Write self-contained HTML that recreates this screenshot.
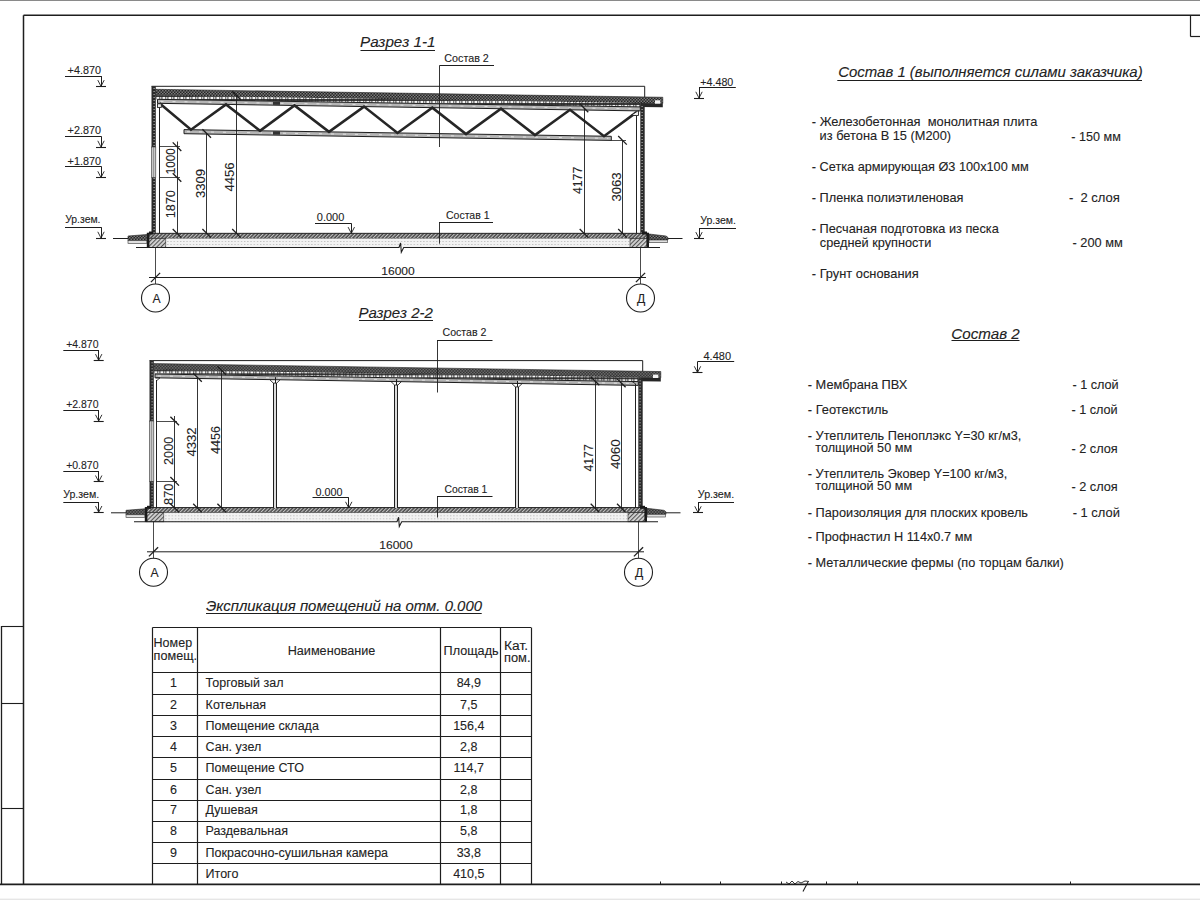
<!DOCTYPE html>
<html><head><meta charset="utf-8"><title>Разрезы</title>
<style>
html,body{margin:0;padding:0;background:#fff;}
body{width:1200px;height:900px;overflow:hidden;}
svg{display:block;font-family:"Liberation Sans",sans-serif;}
text{stroke:#262626;stroke-width:0.1px;}
</style></head><body>
<svg width="1200" height="900" viewBox="0 0 1200 900">
<defs>
<pattern id="pDark" width="3" height="3" patternUnits="userSpaceOnUse">
 <rect width="3" height="3" fill="#262626"/><rect x="0" y="0" width="1.5" height="1.5" fill="#7a7a7a"/><rect x="1.5" y="1.5" width="1.5" height="1.5" fill="#7a7a7a"/>
</pattern>
<pattern id="pWall" width="4" height="3" patternUnits="userSpaceOnUse">
 <rect width="4" height="3" fill="#2a2a2a"/><rect x="1.5" y="1" width="1.2" height="1" fill="#b0b0b0"/>
</pattern>
<pattern id="pHatch" width="2.6" height="2.6" patternUnits="userSpaceOnUse" patternTransform="rotate(45)">
 <rect width="2.6" height="2.6" fill="#4a4a4a"/><rect x="0" y="0" width="1.1" height="2.6" fill="#c4c4c4"/>
</pattern>
<pattern id="pFound" width="3" height="3" patternUnits="userSpaceOnUse" patternTransform="rotate(45)">
 <rect width="3" height="3" fill="#d4d4d4"/><rect x="0" y="0" width="1.1" height="3" fill="#555"/>
</pattern>
<pattern id="pSand" width="3.2" height="3" patternUnits="userSpaceOnUse">
 <rect width="3.2" height="3" fill="#f2f2f2"/><rect x="1" y="1" width="1" height="1" fill="#b0b0b0"/>
</pattern>
<pattern id="pDash" width="6" height="4" patternUnits="userSpaceOnUse">
 <rect width="6" height="4" fill="#262626"/><rect x="0.4" y="0.9" width="3.0" height="2.2" fill="#f6f6f6"/><rect x="4.1" y="0.9" width="1.4" height="2.2" fill="#dedede"/>
</pattern>
</defs>
<rect width="1200" height="900" fill="#ffffff"/>
<rect x="0.00" y="0.00" width="1200.00" height="1.00" fill="#8a8a8a" stroke="none" stroke-width="0.8" />
<rect x="0.00" y="898.60" width="1200.00" height="1.40" fill="#e6e6e6" stroke="none" stroke-width="0.8" />
<line x1="23.50" y1="15.30" x2="1200.00" y2="15.30" stroke="#1e1e1e" stroke-width="1.5" />
<line x1="23.50" y1="15.30" x2="23.50" y2="884.40" stroke="#1e1e1e" stroke-width="1.5" />
<line x1="0.00" y1="884.40" x2="1200.00" y2="884.40" stroke="#1e1e1e" stroke-width="1.6" />
<line x1="1190.50" y1="15.30" x2="1190.50" y2="36.40" stroke="#1e1e1e" stroke-width="1.2" />
<line x1="1190.30" y1="36.50" x2="1200.00" y2="36.50" stroke="#1e1e1e" stroke-width="1.2" />
<line x1="1.50" y1="626.00" x2="1.50" y2="884.40" stroke="#1e1e1e" stroke-width="1.3" />
<line x1="1.50" y1="626.50" x2="23.50" y2="626.50" stroke="#1e1e1e" stroke-width="1.1" />
<line x1="1.50" y1="703.50" x2="23.50" y2="703.50" stroke="#1e1e1e" stroke-width="1.1" />
<line x1="1.50" y1="808.50" x2="23.50" y2="808.50" stroke="#1e1e1e" stroke-width="1.1" />
<line x1="660.50" y1="881.50" x2="660.50" y2="884.40" stroke="#1e1e1e" stroke-width="1.0" />
<line x1="720.50" y1="881.50" x2="720.50" y2="884.40" stroke="#1e1e1e" stroke-width="1.0" />
<line x1="781.50" y1="881.50" x2="781.50" y2="884.40" stroke="#1e1e1e" stroke-width="1.0" />
<line x1="826.50" y1="881.50" x2="826.50" y2="884.40" stroke="#1e1e1e" stroke-width="1.0" />
<line x1="857.50" y1="881.50" x2="857.50" y2="884.40" stroke="#1e1e1e" stroke-width="1.0" />
<line x1="1070.50" y1="881.50" x2="1070.50" y2="884.40" stroke="#1e1e1e" stroke-width="1.0" />
<polyline points="786.00,882.00 789.00,884.00 792.00,881.00 795.00,884.00 798.00,881.50 801.00,883.00 805.00,881.00 809.00,881.50" fill="none" stroke="#1e1e1e" stroke-width="0.9" />
<line x1="808.00" y1="882.00" x2="803.00" y2="891.50" stroke="#1e1e1e" stroke-width="1.1" />
<g>
<polyline points="151.50,86.30 644.70,86.30 644.70,97.20" fill="none" stroke="#1e1e1e" stroke-width="1.0" />
<polygon points="155.70,89.31 662.80,97.27 662.80,103.47 155.70,95.51" fill="url(#pDark)" stroke="#222" stroke-width="0.6" />
<polygon points="155.70,95.51 640.30,103.12 640.30,106.92 155.70,99.31" fill="url(#pDash)" stroke="none" stroke-width="0.8" />
<polygon points="640.30,103.12 662.80,103.47 662.80,107.27 640.30,106.92" fill="#262626" stroke="none" stroke-width="0.8" />
<rect x="655.00" y="100.30" width="5.30" height="3.40" fill="#f4f4f4" stroke="none" stroke-width="0.8" />
<rect x="151.50" y="86.30" width="4.30" height="60.70" fill="url(#pWall)" stroke="none" stroke-width="0.8" />
<rect x="151.50" y="147.00" width="4.30" height="30.50" fill="#c8c8c8" stroke="#333" stroke-width="0.6" />
<line x1="153.50" y1="147.00" x2="153.50" y2="177.50" stroke="#666" stroke-width="0.5" />
<rect x="151.50" y="177.50" width="4.30" height="55.80" fill="url(#pWall)" stroke="none" stroke-width="0.8" />
<rect x="640.30" y="104.20" width="4.40" height="129.10" fill="url(#pWall)" stroke="none" stroke-width="0.8" />
<rect x="148.00" y="233.30" width="500.30" height="5.10" fill="url(#pHatch)" stroke="#151515" stroke-width="0.9" />
<rect x="165.80" y="238.40" width="464.20" height="9.10" fill="url(#pSand)" stroke="none" stroke-width="0.8" />
<rect x="148.00" y="238.40" width="17.80" height="9.10" fill="url(#pFound)" stroke="#333" stroke-width="0.6" />
<rect x="630.00" y="238.40" width="18.30" height="9.10" fill="url(#pFound)" stroke="#333" stroke-width="0.6" />
<rect x="146.80" y="232.80" width="2.60" height="14.80" fill="#1a1a1a" stroke="none" stroke-width="0.8" />
<rect x="646.40" y="232.80" width="2.60" height="14.80" fill="#1a1a1a" stroke="none" stroke-width="0.8" />
<rect x="149.00" y="231.50" width="4.00" height="3.00" fill="#1a1a1a" stroke="none" stroke-width="0.8" />
<rect x="642.00" y="231.50" width="5.00" height="3.00" fill="#1a1a1a" stroke="none" stroke-width="0.8" />
<polyline points="136.00,247.50 399.00,247.50 400.60,243.00 401.30,252.20 403.70,247.50 660.00,247.50" fill="none" stroke="#1e1e1e" stroke-width="1.1" />
<polygon points="128.00,236.00 146.80,234.50 146.80,240.50 128.00,240.50" fill="url(#pDark)" stroke="#222" stroke-width="0.6" />
<rect x="128.00" y="240.50" width="18.80" height="2.80" fill="#e0e0e0" stroke="#333" stroke-width="0.6" />
<line x1="113.00" y1="238.50" x2="128.00" y2="238.50" stroke="#1e1e1e" stroke-width="1.0" />
<polygon points="649.00,234.00 666.00,236.00 668.00,237.50 668.00,240.00 649.00,240.00" fill="url(#pDark)" stroke="#222" stroke-width="0.6" />
<rect x="649.00" y="240.00" width="18.50" height="2.70" fill="#e0e0e0" stroke="#333" stroke-width="0.6" />
<line x1="668.00" y1="238.50" x2="682.50" y2="238.50" stroke="#1e1e1e" stroke-width="1.0" />
<line x1="155.50" y1="247.50" x2="155.50" y2="284.00" stroke="#1e1e1e" stroke-width="0.8" />
<line x1="640.50" y1="247.50" x2="640.50" y2="284.00" stroke="#1e1e1e" stroke-width="0.8" />
<line x1="149.00" y1="277.50" x2="646.00" y2="277.50" stroke="#1e1e1e" stroke-width="1.0" />
<line x1="150.90" y1="282.10" x2="160.10" y2="272.90" stroke="#1e1e1e" stroke-width="1.3" />
<line x1="635.90" y1="282.10" x2="645.10" y2="272.90" stroke="#1e1e1e" stroke-width="1.3" />
<circle cx="155.50" cy="298.00" r="14" fill="none" stroke="#1e1e1e" stroke-width="1.1"/>
<circle cx="640.50" cy="298.00" r="14" fill="none" stroke="#1e1e1e" stroke-width="1.1"/>
<text xml:space="preserve" x="156.60" y="302.60" font-size="12.2" text-anchor="middle" fill="#222">А</text>
<text xml:space="preserve" x="641.20" y="302.60" font-size="12.2" text-anchor="middle" fill="#222">Д</text>
<text xml:space="preserve" x="398.00" y="275.00" font-size="11.6" text-anchor="middle" textLength="33.50" lengthAdjust="spacingAndGlyphs" fill="#222">16000</text>
<polygon points="157.50,99.34 640.30,106.92 640.30,110.92 157.50,103.34" fill="#b4b4b4" stroke="#1e1e1e" stroke-width="1.0" />
<line x1="160.50" y1="101.39" x2="637.30" y2="108.87" stroke="#eeeeee" stroke-width="0.8" stroke-dasharray="3 9"/>
<polygon points="184.00,129.60 611.30,136.31 611.30,140.41 184.00,133.70" fill="#b4b4b4" stroke="#1e1e1e" stroke-width="1.0" />
<line x1="187.00" y1="131.70" x2="608.30" y2="138.31" stroke="#eeeeee" stroke-width="0.8" stroke-dasharray="3 9"/>
<rect x="273.00" y="101.85" width="7.00" height="3.00" fill="#333" stroke="none" stroke-width="0.8" />
<rect x="273.00" y="131.30" width="7.00" height="3.40" fill="#333" stroke="none" stroke-width="0.8" />
<polyline points="159.50,103.37 191.00,129.71 226.00,104.41 260.00,130.79 294.50,105.49 329.00,131.88 364.00,106.58 397.50,132.95 432.30,107.65 466.00,134.03 501.00,108.73 535.00,135.11 570.00,109.82 604.00,136.19 637.00,111.87" fill="none" stroke="#262626" stroke-width="2.6" stroke-linejoin="miter"/>
<rect x="157.50" y="103.80" width="3.80" height="3.60" fill="#f0f0f0" stroke="#222" stroke-width="0.9" />
<polygon points="631.00,115.50 638.50,110.50 638.50,115.50" fill="#f0f0f0" stroke="#222" stroke-width="0.9" />
<line x1="159.50" y1="107.40" x2="159.50" y2="233.30" stroke="#222" stroke-width="1.0" />
<line x1="636.50" y1="116.00" x2="636.50" y2="233.30" stroke="#222" stroke-width="1.0" />
<text xml:space="preserve" x="444.30" y="61.70" font-size="10.6" textLength="44.50" lengthAdjust="spacingAndGlyphs" fill="#222">Состав 2</text>
<line x1="439.70" y1="65.50" x2="494.00" y2="65.50" stroke="#1e1e1e" stroke-width="1.0" />
<line x1="439.50" y1="65.30" x2="439.50" y2="147.00" stroke="#1e1e1e" stroke-width="0.9" />
<text xml:space="preserve" x="316.80" y="221.20" font-size="10.8" textLength="27.50" lengthAdjust="spacingAndGlyphs" fill="#222">0.000</text>
<line x1="315.00" y1="223.50" x2="351.30" y2="223.50" stroke="#1e1e1e" stroke-width="1.0" />
<line x1="351.50" y1="223.30" x2="351.50" y2="233.30" stroke="#1e1e1e" stroke-width="1.0" />
<polyline points="348.10,227.10 351.30,233.30 354.50,227.10" fill="none" stroke="#1e1e1e" stroke-width="0.9" />
<text xml:space="preserve" x="446.00" y="218.70" font-size="10.6" textLength="43.50" lengthAdjust="spacingAndGlyphs" fill="#222">Состав 1</text>
<line x1="439.00" y1="222.50" x2="493.00" y2="222.50" stroke="#1e1e1e" stroke-width="1.0" />
<line x1="439.50" y1="222.80" x2="439.50" y2="243.70" stroke="#1e1e1e" stroke-width="0.9" />
<line x1="159.00" y1="146.50" x2="180.00" y2="146.50" stroke="#1e1e1e" stroke-width="0.8" />
<line x1="159.00" y1="177.50" x2="180.00" y2="177.50" stroke="#1e1e1e" stroke-width="0.8" />
<line x1="177.50" y1="141.50" x2="177.50" y2="233.30" stroke="#1e1e1e" stroke-width="0.9" />
<line x1="172.70" y1="142.40" x2="181.30" y2="151.00" stroke="#1e1e1e" stroke-width="1.3" />
<line x1="172.70" y1="173.20" x2="181.30" y2="181.80" stroke="#1e1e1e" stroke-width="1.3" />
<line x1="172.70" y1="229.00" x2="181.30" y2="237.60" stroke="#1e1e1e" stroke-width="1.3" />
<line x1="206.50" y1="133.50" x2="206.50" y2="233.30" stroke="#1e1e1e" stroke-width="0.9" />
<line x1="202.40" y1="129.20" x2="211.00" y2="137.80" stroke="#1e1e1e" stroke-width="1.3" />
<line x1="202.40" y1="229.00" x2="211.00" y2="237.60" stroke="#1e1e1e" stroke-width="1.3" />
<line x1="236.50" y1="95.50" x2="236.50" y2="233.30" stroke="#1e1e1e" stroke-width="0.9" />
<line x1="232.20" y1="91.20" x2="240.80" y2="99.80" stroke="#1e1e1e" stroke-width="1.3" />
<line x1="232.20" y1="229.00" x2="240.80" y2="237.60" stroke="#1e1e1e" stroke-width="1.3" />
<line x1="584.50" y1="108.00" x2="584.50" y2="233.30" stroke="#1e1e1e" stroke-width="0.9" />
<line x1="579.70" y1="103.70" x2="588.30" y2="112.30" stroke="#1e1e1e" stroke-width="1.3" />
<line x1="579.70" y1="229.00" x2="588.30" y2="237.60" stroke="#1e1e1e" stroke-width="1.3" />
<line x1="611.00" y1="140.50" x2="626.00" y2="140.50" stroke="#1e1e1e" stroke-width="0.8" />
<line x1="622.50" y1="140.30" x2="622.50" y2="233.30" stroke="#1e1e1e" stroke-width="0.9" />
<line x1="618.20" y1="136.00" x2="626.80" y2="144.60" stroke="#1e1e1e" stroke-width="1.3" />
<line x1="618.20" y1="229.00" x2="626.80" y2="237.60" stroke="#1e1e1e" stroke-width="1.3" />
<text xml:space="preserve" x="174.60" y="161.20" font-size="12.2" text-anchor="middle" textLength="25.90" lengthAdjust="spacingAndGlyphs" transform="rotate(-90 174.60 161.20)" fill="#222">1000</text>
<text xml:space="preserve" x="174.60" y="204.20" font-size="12.2" text-anchor="middle" textLength="28.20" lengthAdjust="spacingAndGlyphs" transform="rotate(-90 174.60 204.20)" fill="#222">1870</text>
<text xml:space="preserve" x="204.60" y="183.50" font-size="12.2" text-anchor="middle" textLength="29.20" lengthAdjust="spacingAndGlyphs" transform="rotate(-90 204.60 183.50)" fill="#222">3309</text>
<text xml:space="preserve" x="234.40" y="177.00" font-size="12.2" text-anchor="middle" textLength="28.90" lengthAdjust="spacingAndGlyphs" transform="rotate(-90 234.40 177.00)" fill="#222">4456</text>
<text xml:space="preserve" x="581.70" y="180.40" font-size="12.2" text-anchor="middle" textLength="27.40" lengthAdjust="spacingAndGlyphs" transform="rotate(-90 581.70 180.40)" fill="#222">4177</text>
<text xml:space="preserve" x="620.70" y="187.00" font-size="12.2" text-anchor="middle" textLength="28.90" lengthAdjust="spacingAndGlyphs" transform="rotate(-90 620.70 187.00)" fill="#222">3063</text>
</g>
<g transform="translate(-2,274.3)">
<polyline points="151.50,86.30 644.70,86.30 644.70,97.20" fill="none" stroke="#1e1e1e" stroke-width="1.0" />
<polygon points="155.70,89.31 662.80,97.27 662.80,103.47 155.70,95.51" fill="url(#pDark)" stroke="#222" stroke-width="0.6" />
<polygon points="155.70,95.51 640.30,103.12 640.30,106.92 155.70,99.31" fill="url(#pDash)" stroke="none" stroke-width="0.8" />
<polygon points="640.30,103.12 662.80,103.47 662.80,107.27 640.30,106.92" fill="#262626" stroke="none" stroke-width="0.8" />
<rect x="655.00" y="100.30" width="5.30" height="3.40" fill="#f4f4f4" stroke="none" stroke-width="0.8" />
<rect x="151.50" y="86.30" width="4.30" height="60.40" fill="url(#pWall)" stroke="none" stroke-width="0.8" />
<rect x="151.50" y="146.70" width="4.30" height="60.30" fill="#c8c8c8" stroke="#333" stroke-width="0.6" />
<line x1="153.50" y1="146.70" x2="153.50" y2="207.00" stroke="#666" stroke-width="0.5" />
<rect x="151.50" y="207.00" width="4.30" height="26.30" fill="url(#pWall)" stroke="none" stroke-width="0.8" />
<rect x="640.30" y="104.20" width="4.40" height="129.10" fill="url(#pWall)" stroke="none" stroke-width="0.8" />
<rect x="148.00" y="233.30" width="500.30" height="5.10" fill="url(#pHatch)" stroke="#151515" stroke-width="0.9" />
<rect x="165.80" y="238.40" width="464.20" height="9.10" fill="url(#pSand)" stroke="none" stroke-width="0.8" />
<rect x="148.00" y="238.40" width="17.80" height="9.10" fill="url(#pFound)" stroke="#333" stroke-width="0.6" />
<rect x="630.00" y="238.40" width="18.30" height="9.10" fill="url(#pFound)" stroke="#333" stroke-width="0.6" />
<rect x="146.80" y="232.80" width="2.60" height="14.80" fill="#1a1a1a" stroke="none" stroke-width="0.8" />
<rect x="646.40" y="232.80" width="2.60" height="14.80" fill="#1a1a1a" stroke="none" stroke-width="0.8" />
<rect x="149.00" y="231.50" width="4.00" height="3.00" fill="#1a1a1a" stroke="none" stroke-width="0.8" />
<rect x="642.00" y="231.50" width="5.00" height="3.00" fill="#1a1a1a" stroke="none" stroke-width="0.8" />
<polyline points="136.00,247.50 399.00,247.50 400.60,243.00 401.30,252.20 403.70,247.50 660.00,247.50" fill="none" stroke="#1e1e1e" stroke-width="1.1" />
<polygon points="128.00,236.00 146.80,234.50 146.80,240.50 128.00,240.50" fill="url(#pDark)" stroke="#222" stroke-width="0.6" />
<rect x="128.00" y="240.50" width="18.80" height="2.80" fill="#e0e0e0" stroke="#333" stroke-width="0.6" />
<line x1="113.00" y1="238.50" x2="128.00" y2="238.50" stroke="#1e1e1e" stroke-width="1.0" />
<polygon points="649.00,234.00 666.00,236.00 668.00,237.50 668.00,240.00 649.00,240.00" fill="url(#pDark)" stroke="#222" stroke-width="0.6" />
<rect x="649.00" y="240.00" width="18.50" height="2.70" fill="#e0e0e0" stroke="#333" stroke-width="0.6" />
<line x1="668.00" y1="238.50" x2="682.50" y2="238.50" stroke="#1e1e1e" stroke-width="1.0" />
<line x1="155.50" y1="247.50" x2="155.50" y2="284.00" stroke="#1e1e1e" stroke-width="0.8" />
<line x1="640.50" y1="247.50" x2="640.50" y2="284.00" stroke="#1e1e1e" stroke-width="0.8" />
<line x1="149.00" y1="277.50" x2="646.00" y2="277.50" stroke="#1e1e1e" stroke-width="1.0" />
<line x1="150.90" y1="282.10" x2="160.10" y2="272.90" stroke="#1e1e1e" stroke-width="1.3" />
<line x1="635.90" y1="282.10" x2="645.10" y2="272.90" stroke="#1e1e1e" stroke-width="1.3" />
<circle cx="155.50" cy="298.00" r="14" fill="none" stroke="#1e1e1e" stroke-width="1.1"/>
<circle cx="640.50" cy="298.00" r="14" fill="none" stroke="#1e1e1e" stroke-width="1.1"/>
<text xml:space="preserve" x="156.60" y="302.60" font-size="12.2" text-anchor="middle" fill="#222">А</text>
<text xml:space="preserve" x="641.20" y="302.60" font-size="12.2" text-anchor="middle" fill="#222">Д</text>
<text xml:space="preserve" x="398.00" y="275.00" font-size="11.6" text-anchor="middle" textLength="33.50" lengthAdjust="spacingAndGlyphs" fill="#222">16000</text>
</g>
<polygon points="155.00,374.02 638.30,381.60 638.30,385.40 155.00,377.82" fill="#b4b4b4" stroke="#1e1e1e" stroke-width="1.0" />
<line x1="158.00" y1="375.96" x2="635.30" y2="383.46" stroke="#eeeeee" stroke-width="0.8" stroke-dasharray="3 9"/>
<rect x="273.30" y="383.10" width="3.40" height="124.90" fill="#dcdcdc" stroke="none" stroke-width="0.8" />
<line x1="273.50" y1="383.10" x2="273.50" y2="508.00" stroke="#1e1e1e" stroke-width="1.0" />
<line x1="276.50" y1="383.10" x2="276.50" y2="508.00" stroke="#1e1e1e" stroke-width="1.0" />
<polyline points="269.80,379.70 273.30,383.10 276.70,383.10 280.20,379.70" fill="none" stroke="#1e1e1e" stroke-width="0.9" />
<line x1="275.50" y1="377.20" x2="275.50" y2="383.10" stroke="#1e1e1e" stroke-width="1.0" />
<rect x="394.55" y="385.00" width="3.40" height="123.00" fill="#dcdcdc" stroke="none" stroke-width="0.8" />
<line x1="394.50" y1="385.00" x2="394.50" y2="508.00" stroke="#1e1e1e" stroke-width="1.0" />
<line x1="397.50" y1="385.00" x2="397.50" y2="508.00" stroke="#1e1e1e" stroke-width="1.0" />
<polyline points="391.05,381.60 394.55,385.00 397.95,385.00 401.45,381.60" fill="none" stroke="#1e1e1e" stroke-width="0.9" />
<line x1="396.50" y1="379.10" x2="396.50" y2="385.00" stroke="#1e1e1e" stroke-width="1.0" />
<rect x="515.30" y="386.90" width="3.40" height="121.10" fill="#dcdcdc" stroke="none" stroke-width="0.8" />
<line x1="515.50" y1="386.90" x2="515.50" y2="508.00" stroke="#1e1e1e" stroke-width="1.0" />
<line x1="518.50" y1="386.90" x2="518.50" y2="508.00" stroke="#1e1e1e" stroke-width="1.0" />
<polyline points="511.80,383.50 515.30,386.90 518.70,386.90 522.20,383.50" fill="none" stroke="#1e1e1e" stroke-width="0.9" />
<line x1="517.50" y1="381.00" x2="517.50" y2="386.90" stroke="#1e1e1e" stroke-width="1.0" />
<line x1="156.50" y1="380.00" x2="156.50" y2="508.00" stroke="#222" stroke-width="1.0" />
<line x1="635.50" y1="384.00" x2="635.50" y2="508.00" stroke="#222" stroke-width="1.0" />
<polyline points="156.00,377.80 160.00,377.80 156.30,381.00" fill="none" stroke="#1e1e1e" stroke-width="0.8" />
<polyline points="635.80,381.50 632.00,381.50 635.80,384.00" fill="none" stroke="#1e1e1e" stroke-width="0.8" />
<text xml:space="preserve" x="442.50" y="335.80" font-size="10.6" textLength="44.00" lengthAdjust="spacingAndGlyphs" fill="#222">Состав 2</text>
<line x1="437.00" y1="340.50" x2="492.50" y2="340.50" stroke="#1e1e1e" stroke-width="1.0" />
<line x1="437.50" y1="340.00" x2="437.50" y2="392.50" stroke="#1e1e1e" stroke-width="0.9" />
<text xml:space="preserve" x="315.60" y="495.75" font-size="10.8" textLength="27.00" lengthAdjust="spacingAndGlyphs" fill="#222">0.000</text>
<line x1="312.50" y1="497.50" x2="348.75" y2="497.50" stroke="#1e1e1e" stroke-width="1.0" />
<line x1="348.50" y1="497.50" x2="348.50" y2="508.00" stroke="#1e1e1e" stroke-width="1.0" />
<polyline points="345.55,501.80 348.75,508.00 351.95,501.80" fill="none" stroke="#1e1e1e" stroke-width="0.9" />
<text xml:space="preserve" x="444.40" y="493.25" font-size="10.6" textLength="43.00" lengthAdjust="spacingAndGlyphs" fill="#222">Состав 1</text>
<line x1="437.00" y1="496.50" x2="492.50" y2="496.50" stroke="#1e1e1e" stroke-width="1.0" />
<line x1="437.50" y1="496.75" x2="437.50" y2="517.50" stroke="#1e1e1e" stroke-width="0.9" />
<line x1="156.30" y1="421.50" x2="177.00" y2="421.50" stroke="#1e1e1e" stroke-width="0.8" />
<line x1="156.30" y1="481.50" x2="177.00" y2="481.50" stroke="#1e1e1e" stroke-width="0.8" />
<line x1="174.50" y1="416.00" x2="174.50" y2="508.00" stroke="#1e1e1e" stroke-width="0.9" />
<line x1="170.40" y1="416.70" x2="179.00" y2="425.30" stroke="#1e1e1e" stroke-width="1.3" />
<line x1="170.40" y1="477.00" x2="179.00" y2="485.60" stroke="#1e1e1e" stroke-width="1.3" />
<line x1="170.40" y1="503.70" x2="179.00" y2="512.30" stroke="#1e1e1e" stroke-width="1.3" />
<line x1="197.50" y1="377.50" x2="197.50" y2="508.00" stroke="#1e1e1e" stroke-width="0.9" />
<line x1="193.20" y1="373.20" x2="201.80" y2="381.80" stroke="#1e1e1e" stroke-width="1.3" />
<line x1="193.20" y1="503.70" x2="201.80" y2="512.30" stroke="#1e1e1e" stroke-width="1.3" />
<line x1="221.50" y1="370.50" x2="221.50" y2="508.00" stroke="#1e1e1e" stroke-width="0.9" />
<line x1="217.40" y1="366.20" x2="226.00" y2="374.80" stroke="#1e1e1e" stroke-width="1.3" />
<line x1="217.40" y1="503.70" x2="226.00" y2="512.30" stroke="#1e1e1e" stroke-width="1.3" />
<line x1="595.50" y1="381.00" x2="595.50" y2="508.00" stroke="#1e1e1e" stroke-width="0.9" />
<line x1="590.70" y1="376.70" x2="599.30" y2="385.30" stroke="#1e1e1e" stroke-width="1.3" />
<line x1="590.70" y1="503.70" x2="599.30" y2="512.30" stroke="#1e1e1e" stroke-width="1.3" />
<line x1="621.50" y1="383.00" x2="621.50" y2="508.00" stroke="#1e1e1e" stroke-width="0.9" />
<line x1="617.00" y1="378.70" x2="625.60" y2="387.30" stroke="#1e1e1e" stroke-width="1.3" />
<line x1="617.00" y1="503.70" x2="625.60" y2="512.30" stroke="#1e1e1e" stroke-width="1.3" />
<text xml:space="preserve" x="173.30" y="450.85" font-size="12.2" text-anchor="middle" textLength="28.10" lengthAdjust="spacingAndGlyphs" transform="rotate(-90 173.30 450.85)" fill="#222">2000</text>
<text xml:space="preserve" x="173.30" y="494.20" font-size="12.2" text-anchor="middle" textLength="21.40" lengthAdjust="spacingAndGlyphs" transform="rotate(-90 173.30 494.20)" fill="#222">870</text>
<text xml:space="preserve" x="195.80" y="442.00" font-size="12.2" text-anchor="middle" textLength="28.90" lengthAdjust="spacingAndGlyphs" transform="rotate(-90 195.80 442.00)" fill="#222">4332</text>
<text xml:space="preserve" x="220.00" y="440.00" font-size="12.2" text-anchor="middle" textLength="28.00" lengthAdjust="spacingAndGlyphs" transform="rotate(-90 220.00 440.00)" fill="#222">4456</text>
<text xml:space="preserve" x="593.30" y="457.90" font-size="12.2" text-anchor="middle" textLength="27.20" lengthAdjust="spacingAndGlyphs" transform="rotate(-90 593.30 457.90)" fill="#222">4177</text>
<text xml:space="preserve" x="619.70" y="454.20" font-size="12.2" text-anchor="middle" textLength="29.70" lengthAdjust="spacingAndGlyphs" transform="rotate(-90 619.70 454.20)" fill="#222">4060</text>
<text xml:space="preserve" x="67.60" y="73.70" font-size="10.8" textLength="33.30" lengthAdjust="spacingAndGlyphs" fill="#222">+4.870</text>
<line x1="65.00" y1="76.50" x2="101.70" y2="76.50" stroke="#1e1e1e" stroke-width="1.0" />
<line x1="101.50" y1="76.20" x2="101.50" y2="86.30" stroke="#1e1e1e" stroke-width="1.0" />
<polyline points="97.80,80.10 101.00,86.30 104.20,80.10" fill="none" stroke="#1e1e1e" stroke-width="0.9" />
<line x1="96.00" y1="86.50" x2="106.00" y2="86.50" stroke="#1e1e1e" stroke-width="1.1" />
<text xml:space="preserve" x="67.60" y="134.20" font-size="10.8" textLength="33.30" lengthAdjust="spacingAndGlyphs" fill="#222">+2.870</text>
<line x1="65.00" y1="136.50" x2="101.70" y2="136.50" stroke="#1e1e1e" stroke-width="1.0" />
<line x1="101.50" y1="136.70" x2="101.50" y2="147.00" stroke="#1e1e1e" stroke-width="1.0" />
<polyline points="97.80,140.80 101.00,147.00 104.20,140.80" fill="none" stroke="#1e1e1e" stroke-width="0.9" />
<line x1="96.00" y1="147.50" x2="106.00" y2="147.50" stroke="#1e1e1e" stroke-width="1.1" />
<text xml:space="preserve" x="67.60" y="164.70" font-size="10.8" textLength="33.30" lengthAdjust="spacingAndGlyphs" fill="#222">+1.870</text>
<line x1="65.00" y1="166.50" x2="101.70" y2="166.50" stroke="#1e1e1e" stroke-width="1.0" />
<line x1="101.50" y1="166.70" x2="101.50" y2="177.50" stroke="#1e1e1e" stroke-width="1.0" />
<polyline points="97.80,171.30 101.00,177.50 104.20,171.30" fill="none" stroke="#1e1e1e" stroke-width="0.9" />
<line x1="96.00" y1="177.50" x2="106.00" y2="177.50" stroke="#1e1e1e" stroke-width="1.1" />
<text xml:space="preserve" x="65.20" y="223.30" font-size="10.8" textLength="35.30" lengthAdjust="spacingAndGlyphs" fill="#222">Ур.зем.</text>
<line x1="65.00" y1="227.50" x2="101.70" y2="227.50" stroke="#1e1e1e" stroke-width="1.0" />
<line x1="101.50" y1="227.50" x2="101.50" y2="238.00" stroke="#1e1e1e" stroke-width="1.0" />
<polyline points="97.80,231.80 101.00,238.00 104.20,231.80" fill="none" stroke="#1e1e1e" stroke-width="0.9" />
<line x1="96.00" y1="238.50" x2="106.00" y2="238.50" stroke="#1e1e1e" stroke-width="1.1" />
<text xml:space="preserve" x="700.30" y="85.50" font-size="10.8" textLength="33.00" lengthAdjust="spacingAndGlyphs" fill="#222">+4.480</text>
<line x1="699.00" y1="87.50" x2="735.80" y2="87.50" stroke="#1e1e1e" stroke-width="1.0" />
<line x1="699.50" y1="87.80" x2="699.50" y2="98.00" stroke="#1e1e1e" stroke-width="1.0" />
<polyline points="695.80,91.80 699.00,98.00 702.20,91.80" fill="none" stroke="#1e1e1e" stroke-width="0.9" />
<line x1="694.00" y1="98.50" x2="704.00" y2="98.50" stroke="#1e1e1e" stroke-width="1.1" />
<text xml:space="preserve" x="700.30" y="223.70" font-size="10.8" textLength="35.70" lengthAdjust="spacingAndGlyphs" fill="#222">Ур.зем.</text>
<line x1="699.00" y1="228.50" x2="736.00" y2="228.50" stroke="#1e1e1e" stroke-width="1.0" />
<line x1="699.50" y1="228.00" x2="699.50" y2="238.30" stroke="#1e1e1e" stroke-width="1.0" />
<polyline points="695.80,232.10 699.00,238.30 702.20,232.10" fill="none" stroke="#1e1e1e" stroke-width="0.9" />
<line x1="694.00" y1="238.50" x2="704.00" y2="238.50" stroke="#1e1e1e" stroke-width="1.1" />
<text xml:space="preserve" x="66.20" y="348.00" font-size="10.8" textLength="32.30" lengthAdjust="spacingAndGlyphs" fill="#222">+4.870</text>
<line x1="63.30" y1="350.50" x2="99.00" y2="350.50" stroke="#1e1e1e" stroke-width="1.0" />
<line x1="98.50" y1="350.00" x2="98.50" y2="360.30" stroke="#1e1e1e" stroke-width="1.0" />
<polyline points="95.50,354.10 98.70,360.30 101.90,354.10" fill="none" stroke="#1e1e1e" stroke-width="0.9" />
<line x1="93.70" y1="360.50" x2="103.70" y2="360.50" stroke="#1e1e1e" stroke-width="1.1" />
<text xml:space="preserve" x="66.20" y="408.30" font-size="10.8" textLength="32.30" lengthAdjust="spacingAndGlyphs" fill="#222">+2.870</text>
<line x1="63.30" y1="410.50" x2="99.00" y2="410.50" stroke="#1e1e1e" stroke-width="1.0" />
<line x1="98.50" y1="410.50" x2="98.50" y2="421.00" stroke="#1e1e1e" stroke-width="1.0" />
<polyline points="95.50,414.80 98.70,421.00 101.90,414.80" fill="none" stroke="#1e1e1e" stroke-width="0.9" />
<line x1="93.70" y1="421.50" x2="103.70" y2="421.50" stroke="#1e1e1e" stroke-width="1.1" />
<text xml:space="preserve" x="66.20" y="469.20" font-size="10.8" textLength="32.30" lengthAdjust="spacingAndGlyphs" fill="#222">+0.870</text>
<line x1="63.30" y1="471.50" x2="99.00" y2="471.50" stroke="#1e1e1e" stroke-width="1.0" />
<line x1="98.50" y1="471.20" x2="98.50" y2="481.70" stroke="#1e1e1e" stroke-width="1.0" />
<polyline points="95.50,475.50 98.70,481.70 101.90,475.50" fill="none" stroke="#1e1e1e" stroke-width="0.9" />
<line x1="93.70" y1="481.50" x2="103.70" y2="481.50" stroke="#1e1e1e" stroke-width="1.1" />
<text xml:space="preserve" x="63.20" y="497.50" font-size="10.8" textLength="36.00" lengthAdjust="spacingAndGlyphs" fill="#222">Ур.зем.</text>
<line x1="63.30" y1="502.50" x2="99.00" y2="502.50" stroke="#1e1e1e" stroke-width="1.0" />
<line x1="98.50" y1="502.00" x2="98.50" y2="512.20" stroke="#1e1e1e" stroke-width="1.0" />
<polyline points="95.50,506.00 98.70,512.20 101.90,506.00" fill="none" stroke="#1e1e1e" stroke-width="0.9" />
<line x1="93.70" y1="512.50" x2="103.70" y2="512.50" stroke="#1e1e1e" stroke-width="1.1" />
<text xml:space="preserve" x="703.50" y="360.00" font-size="10.8" textLength="27.50" lengthAdjust="spacingAndGlyphs" fill="#222">4.480</text>
<line x1="697.50" y1="361.50" x2="734.20" y2="361.50" stroke="#1e1e1e" stroke-width="1.0" />
<line x1="697.50" y1="361.70" x2="697.50" y2="372.50" stroke="#1e1e1e" stroke-width="1.0" />
<polyline points="694.30,366.30 697.50,372.50 700.70,366.30" fill="none" stroke="#1e1e1e" stroke-width="0.9" />
<line x1="692.50" y1="372.50" x2="702.50" y2="372.50" stroke="#1e1e1e" stroke-width="1.1" />
<text xml:space="preserve" x="697.80" y="498.30" font-size="10.8" textLength="36.40" lengthAdjust="spacingAndGlyphs" fill="#222">Ур.зем.</text>
<line x1="698.00" y1="502.50" x2="734.00" y2="502.50" stroke="#1e1e1e" stroke-width="1.0" />
<line x1="698.50" y1="502.00" x2="698.50" y2="512.50" stroke="#1e1e1e" stroke-width="1.0" />
<polyline points="694.80,506.30 698.00,512.50 701.20,506.30" fill="none" stroke="#1e1e1e" stroke-width="0.9" />
<line x1="693.00" y1="512.50" x2="703.00" y2="512.50" stroke="#1e1e1e" stroke-width="1.1" />
<text xml:space="preserve" x="360.00" y="46.70" font-size="13.8" font-style="italic" textLength="75.50" lengthAdjust="spacingAndGlyphs" fill="#222">Разрез 1-1</text>
<line x1="360.50" y1="50.50" x2="435.00" y2="50.50" stroke="#1e1e1e" stroke-width="1.2" />
<text xml:space="preserve" x="358.40" y="317.50" font-size="13.8" font-style="italic" textLength="74.50" lengthAdjust="spacingAndGlyphs" fill="#222">Разрез 2-2</text>
<line x1="359.00" y1="320.50" x2="433.00" y2="320.50" stroke="#1e1e1e" stroke-width="1.2" />
<text xml:space="preserve" x="838.20" y="77.40" font-size="13.8" font-style="italic" textLength="304.50" lengthAdjust="spacingAndGlyphs" fill="#222">Состав 1 (выполняется силами заказчика)</text>
<line x1="837.30" y1="80.50" x2="1142.00" y2="80.50" stroke="#1e1e1e" stroke-width="1.2" />
<text xml:space="preserve" x="951.30" y="338.50" font-size="13.8" font-style="italic" textLength="68.50" lengthAdjust="spacingAndGlyphs" fill="#222">Состав 2</text>
<line x1="951.50" y1="340.50" x2="1019.50" y2="340.50" stroke="#1e1e1e" stroke-width="1.2" />
<text xml:space="preserve" x="206.00" y="610.70" font-size="13.8" font-style="italic" textLength="276.00" lengthAdjust="spacingAndGlyphs" fill="#222">Экспликация помещений на отм. 0.000</text>
<line x1="206.00" y1="613.50" x2="481.70" y2="613.50" stroke="#1e1e1e" stroke-width="1.2" />
<text xml:space="preserve" x="811.80" y="125.60" font-size="13.0" textLength="225.70" lengthAdjust="spacingAndGlyphs" fill="#222">- Железобетонная  монолитная плита</text>
<text xml:space="preserve" x="819.60" y="140.30" font-size="13.0" textLength="131.50" lengthAdjust="spacingAndGlyphs" fill="#222">из бетона В 15 (М200)</text>
<text xml:space="preserve" x="1071.30" y="140.70" font-size="13.0" textLength="49.50" lengthAdjust="spacingAndGlyphs" fill="#222">- 150 мм</text>
<text xml:space="preserve" x="811.80" y="171.00" font-size="13.0" textLength="217.00" lengthAdjust="spacingAndGlyphs" fill="#222">- Сетка армирующая Ø3 100х100 мм</text>
<text xml:space="preserve" x="811.80" y="201.50" font-size="13.0" textLength="151.70" lengthAdjust="spacingAndGlyphs" fill="#222">- Пленка полиэтиленовая</text>
<text xml:space="preserve" x="1068.90" y="201.50" font-size="13.0" textLength="51.00" lengthAdjust="spacingAndGlyphs" fill="#222">-  2 слоя</text>
<text xml:space="preserve" x="811.80" y="232.50" font-size="13.0" textLength="187.00" lengthAdjust="spacingAndGlyphs" fill="#222">- Песчаная подготовка из песка</text>
<text xml:space="preserve" x="819.80" y="247.00" font-size="13.0" textLength="111.50" lengthAdjust="spacingAndGlyphs" fill="#222">средней крупности</text>
<text xml:space="preserve" x="1072.50" y="247.00" font-size="13.0" textLength="50.30" lengthAdjust="spacingAndGlyphs" fill="#222">- 200 мм</text>
<text xml:space="preserve" x="811.80" y="277.70" font-size="13.0" textLength="106.80" lengthAdjust="spacingAndGlyphs" fill="#222">- Грунт основания</text>
<text xml:space="preserve" x="807.80" y="389.20" font-size="12.4" textLength="99.50" lengthAdjust="spacingAndGlyphs" fill="#222">- Мембрана ПВХ</text>
<text xml:space="preserve" x="807.80" y="414.30" font-size="12.4" textLength="80.50" lengthAdjust="spacingAndGlyphs" fill="#222">- Геотекстиль</text>
<text xml:space="preserve" x="807.80" y="440.00" font-size="12.4" textLength="213.50" lengthAdjust="spacingAndGlyphs" fill="#222">- Утеплитель Пеноплэкс Y=30 кг/м3,</text>
<text xml:space="preserve" x="815.30" y="452.40" font-size="12.4" textLength="96.80" lengthAdjust="spacingAndGlyphs" fill="#222">толщиной 50 мм</text>
<text xml:space="preserve" x="807.80" y="478.00" font-size="12.4" textLength="199.50" lengthAdjust="spacingAndGlyphs" fill="#222">- Утеплитель Эковер Y=100 кг/м3,</text>
<text xml:space="preserve" x="815.30" y="490.40" font-size="12.4" textLength="96.80" lengthAdjust="spacingAndGlyphs" fill="#222">толщиной 50 мм</text>
<text xml:space="preserve" x="807.80" y="516.50" font-size="12.4" textLength="220.20" lengthAdjust="spacingAndGlyphs" fill="#222">- Пароизоляция для плоских кровель</text>
<text xml:space="preserve" x="807.80" y="541.20" font-size="12.4" textLength="164.40" lengthAdjust="spacingAndGlyphs" fill="#222">- Профнастил Н 114х0.7 мм</text>
<text xml:space="preserve" x="807.80" y="566.50" font-size="12.4" textLength="256.00" lengthAdjust="spacingAndGlyphs" fill="#222">- Металлические фермы (по торцам балки)</text>
<text xml:space="preserve" x="1072.40" y="388.80" font-size="12.4" textLength="46.30" lengthAdjust="spacingAndGlyphs" fill="#222">- 1 слой</text>
<text xml:space="preserve" x="1071.40" y="414.00" font-size="12.4" textLength="46.30" lengthAdjust="spacingAndGlyphs" fill="#222">- 1 слой</text>
<text xml:space="preserve" x="1071.40" y="452.50" font-size="12.4" textLength="46.30" lengthAdjust="spacingAndGlyphs" fill="#222">- 2 слоя</text>
<text xml:space="preserve" x="1071.40" y="490.50" font-size="12.4" textLength="46.30" lengthAdjust="spacingAndGlyphs" fill="#222">- 2 слоя</text>
<text xml:space="preserve" x="1072.70" y="516.50" font-size="12.4" textLength="47.20" lengthAdjust="spacingAndGlyphs" fill="#222">- 1 слой</text>
<line x1="152.50" y1="627.60" x2="152.50" y2="884.40" stroke="#1e1e1e" stroke-width="1.2" />
<line x1="197.50" y1="627.60" x2="197.50" y2="884.40" stroke="#1e1e1e" stroke-width="1.2" />
<line x1="440.50" y1="627.60" x2="440.50" y2="884.40" stroke="#1e1e1e" stroke-width="1.2" />
<line x1="500.50" y1="627.60" x2="500.50" y2="884.40" stroke="#1e1e1e" stroke-width="1.2" />
<line x1="531.50" y1="627.60" x2="531.50" y2="884.40" stroke="#1e1e1e" stroke-width="1.2" />
<line x1="152.50" y1="627.50" x2="531.00" y2="627.50" stroke="#1e1e1e" stroke-width="1.2" />
<line x1="152.50" y1="672.50" x2="531.00" y2="672.50" stroke="#1e1e1e" stroke-width="1.2" />
<line x1="152.50" y1="694.50" x2="531.00" y2="694.50" stroke="#1e1e1e" stroke-width="1.2" />
<line x1="152.50" y1="715.50" x2="531.00" y2="715.50" stroke="#1e1e1e" stroke-width="1.2" />
<line x1="152.50" y1="736.50" x2="531.00" y2="736.50" stroke="#1e1e1e" stroke-width="1.2" />
<line x1="152.50" y1="757.50" x2="531.00" y2="757.50" stroke="#1e1e1e" stroke-width="1.2" />
<line x1="152.50" y1="779.50" x2="531.00" y2="779.50" stroke="#1e1e1e" stroke-width="1.2" />
<line x1="152.50" y1="800.50" x2="531.00" y2="800.50" stroke="#1e1e1e" stroke-width="1.2" />
<line x1="152.50" y1="821.50" x2="531.00" y2="821.50" stroke="#1e1e1e" stroke-width="1.2" />
<line x1="152.50" y1="842.50" x2="531.00" y2="842.50" stroke="#1e1e1e" stroke-width="1.2" />
<line x1="152.50" y1="863.50" x2="531.00" y2="863.50" stroke="#1e1e1e" stroke-width="1.2" />
<text xml:space="preserve" x="153.60" y="647.00" font-size="12.5" textLength="38.50" lengthAdjust="spacingAndGlyphs" fill="#222">Номер</text>
<text xml:space="preserve" x="153.60" y="659.70" font-size="12.5" textLength="43.50" lengthAdjust="spacingAndGlyphs" fill="#222">помещ.</text>
<text xml:space="preserve" x="287.70" y="654.50" font-size="12.5" textLength="87.70" lengthAdjust="spacingAndGlyphs" fill="#222">Наименование</text>
<text xml:space="preserve" x="443.60" y="655.00" font-size="12.5" textLength="55.00" lengthAdjust="spacingAndGlyphs" fill="#222">Площадь</text>
<text xml:space="preserve" x="504.00" y="649.70" font-size="12.5" textLength="24.00" lengthAdjust="spacingAndGlyphs" fill="#222">Кат.</text>
<text xml:space="preserve" x="504.00" y="661.70" font-size="12.5" textLength="26.50" lengthAdjust="spacingAndGlyphs" fill="#222">пом.</text>
<text xml:space="preserve" x="173.60" y="686.90" font-size="12.5" text-anchor="middle" fill="#222">1</text>
<text xml:space="preserve" x="205.60" y="686.90" font-size="12.5" fill="#222">Торговый зал</text>
<text xml:space="preserve" x="468.80" y="686.90" font-size="12.5" text-anchor="middle" fill="#222">84,9</text>
<text xml:space="preserve" x="173.60" y="708.50" font-size="12.5" text-anchor="middle" fill="#222">2</text>
<text xml:space="preserve" x="205.60" y="708.50" font-size="12.5" fill="#222">Котельная</text>
<text xml:space="preserve" x="468.80" y="708.50" font-size="12.5" text-anchor="middle" fill="#222">7,5</text>
<text xml:space="preserve" x="173.60" y="729.60" font-size="12.5" text-anchor="middle" fill="#222">3</text>
<text xml:space="preserve" x="205.60" y="729.60" font-size="12.5" fill="#222">Помещение склада</text>
<text xml:space="preserve" x="468.80" y="729.60" font-size="12.5" text-anchor="middle" fill="#222">156,4</text>
<text xml:space="preserve" x="173.60" y="750.70" font-size="12.5" text-anchor="middle" fill="#222">4</text>
<text xml:space="preserve" x="205.60" y="750.70" font-size="12.5" fill="#222">Сан. узел</text>
<text xml:space="preserve" x="468.80" y="750.70" font-size="12.5" text-anchor="middle" fill="#222">2,8</text>
<text xml:space="preserve" x="173.60" y="771.90" font-size="12.5" text-anchor="middle" fill="#222">5</text>
<text xml:space="preserve" x="205.60" y="771.90" font-size="12.5" fill="#222">Помещение СТО</text>
<text xml:space="preserve" x="468.80" y="771.90" font-size="12.5" text-anchor="middle" fill="#222">114,7</text>
<text xml:space="preserve" x="173.60" y="793.50" font-size="12.5" text-anchor="middle" fill="#222">6</text>
<text xml:space="preserve" x="205.60" y="793.50" font-size="12.5" fill="#222">Сан. узел</text>
<text xml:space="preserve" x="468.80" y="793.50" font-size="12.5" text-anchor="middle" fill="#222">2,8</text>
<text xml:space="preserve" x="173.60" y="814.20" font-size="12.5" text-anchor="middle" fill="#222">7</text>
<text xml:space="preserve" x="205.60" y="814.20" font-size="12.5" fill="#222">Душевая</text>
<text xml:space="preserve" x="468.80" y="814.20" font-size="12.5" text-anchor="middle" fill="#222">1,8</text>
<text xml:space="preserve" x="173.60" y="835.20" font-size="12.5" text-anchor="middle" fill="#222">8</text>
<text xml:space="preserve" x="205.60" y="835.20" font-size="12.5" fill="#222">Раздевальная</text>
<text xml:space="preserve" x="468.80" y="835.20" font-size="12.5" text-anchor="middle" fill="#222">5,8</text>
<text xml:space="preserve" x="173.60" y="856.50" font-size="12.5" text-anchor="middle" fill="#222">9</text>
<text xml:space="preserve" x="205.60" y="856.50" font-size="12.5" fill="#222">Покрасочно-сушильная камера</text>
<text xml:space="preserve" x="468.80" y="856.50" font-size="12.5" text-anchor="middle" fill="#222">33,8</text>
<text xml:space="preserve" x="205.60" y="877.50" font-size="12.5" fill="#222">Итого</text>
<text xml:space="preserve" x="468.80" y="877.50" font-size="12.5" text-anchor="middle" fill="#222">410,5</text>
</svg>
</body></html>
